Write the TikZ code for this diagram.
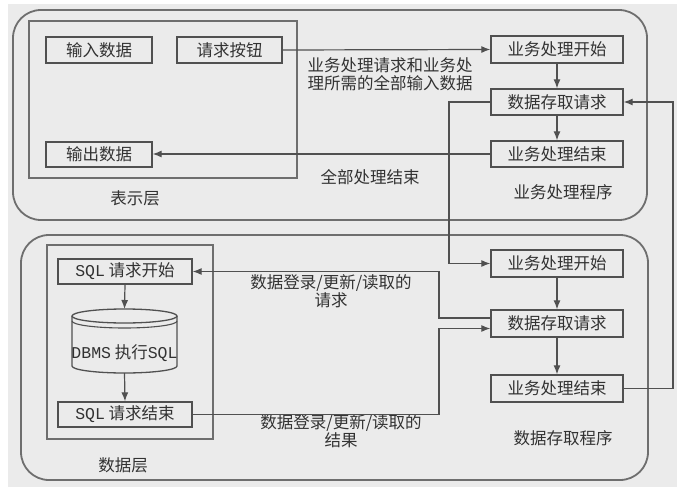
\documentclass[tikz,border=0pt]{standalone}
\usepackage{fontspec}
\setmainfont{Noto Sans CJK SC}
\newfontfamily\monof{Liberation Mono}
\usetikzlibrary{arrows.meta,calc}
\definecolor{bgc}{RGB}{235,235,235}
\definecolor{lnc}{RGB}{80,80,80}
\definecolor{outc}{RGB}{110,110,110}
\definecolor{txc}{RGB}{50,50,50}
\tikzset{
  box/.style={draw=lnc,line width=1.3pt,inner sep=0pt,text=txc,font=\fontsize{16.5}{18}\selectfont},
  lbl/.style={text=txc,font=\fontsize{16.5}{18}\selectfont,align=center,inner sep=0pt},
  conn/.style={draw=lnc,line width=1.2pt},
  arr/.style={conn,-{Latex[length=9pt,width=7pt]}},
  outer/.style={draw=outc,line width=1.8pt,rounded corners=28pt},
  inner/.style={draw=outc,line width=1.8pt}
}
\begin{document}
\begin{tikzpicture}[x=1pt,y=-1pt]
\useasboundingbox (0,0) rectangle (700,492);
\fill[white] (0,0) rectangle (700,492);
\fill[bgc] (8,4) rectangle (677,487);
% layers
\draw[outer] (13,10) rectangle (647,220);
\draw[outer] (21,235) rectangle (648,480);
\draw[inner] (29,21) rectangle (297,178);
\draw[inner] (47,245) rectangle (213,439);
% top-left boxes
\node[box,minimum width=106pt,minimum height=26pt] (in) at (99,50) {输入数据};
\node[box,minimum width=105pt,minimum height=26pt] (btn) at (229.5,50) {请求按钮};
\node[box,minimum width=106pt,minimum height=25pt] (out) at (99,154.5) {输出数据};
% top-right boxes
\node[box,minimum width=132pt,minimum height=27pt] (s1) at (557,49.5) {业务处理开始};
\node[box,minimum width=132pt,minimum height=26pt] (s2) at (557,102) {数据存取请求};
\node[box,minimum width=132pt,minimum height=26pt] (s3) at (557,154) {业务处理结束};
% bottom-right boxes
\node[box,minimum width=132pt,minimum height=27pt] (b1) at (557,263.5) {业务处理开始};
\node[box,minimum width=132pt,minimum height=27pt] (b2) at (557,323.5) {数据存取请求};
\node[box,minimum width=132pt,minimum height=27pt] (b3) at (557,388.5) {业务处理结束};
% bottom-left boxes
\node[box,minimum width=134pt,minimum height=25pt] (q1) at (125,271.5) {{\monof SQL} 请求开始};
\node[box,minimum width=134pt,minimum height=25pt] (q2) at (125,414.5) {{\monof SQL} 请求结束};
% cylinder
\draw[lnc,line width=1.3pt] (72,316) -- (72,366) arc[start angle=180,end angle=360,x radius=52.5pt,y radius=7pt] -- (177,316);
\draw[lnc,line width=1.3pt] (124.5,316) ellipse[x radius=52.5pt,y radius=7pt];
\draw[lnc,line width=1.1pt] (72,321) arc[start angle=180,end angle=360,x radius=52.5pt,y radius=7pt];
\node[lbl] (db) at (124.5,353) {{\monof DBMS} 执行{\monof SQL}};
\coordinate (dbt) at (124.5,309);
\coordinate (dbb) at (124.5,373);
% labels
\node[lbl] (l1) at (135,198) {表示层};
\node[lbl] (l2) at (563,192) {业务处理程序};
\node[lbl] (l3) at (123,465) {数据层};
\node[lbl] (l4) at (563,438) {数据存取程序};
\node[lbl,align=left] (t1) at (390,74) {业务处理请求和业务处\\理所需的全部输入数据};
\node[lbl] (t2) at (370,177) {全部处理结束};
\node[lbl] (t3) at (331,291) {数据登录/更新/读取的\\请求};
\node[lbl] (t4) at (341,431) {数据登录/更新/读取的\\结果};
% routing coordinates
\coordinate (c1) at (449,180);
\coordinate (c2) at (673,250);
\coordinate (c3) at (439,295);
\coordinate (c4) at (439,370);
% connectors
\draw[arr] (btn.east) -- (s1.west);
\draw[arr] (s1.south) -- (s2.north);
\draw[arr] (s2.south) -- (s3.north);
\draw[arr] (s3.west) -- (s3.west -| out.east);
\draw[arr] (s2.west) -| (c1) |- (b1.west);
\draw[arr] (b3.east) -| (c2) |- (s2.east);
\draw[arr] (b1.south) -- (b2.north);
\draw[arr] (b2.south) -- (b3.north);
\draw[arr] ($(b2.west)+(0,-5.5)$) -| (c3) |- (q1.east);
\draw[arr] (q2.east) -| (c4) |- ($(b2.west)+(0,5)$);
\draw[arr] (q1.south) -- (dbt);
\draw[arr] (dbb) -- (q2.north);
\end{tikzpicture}
\end{document}
